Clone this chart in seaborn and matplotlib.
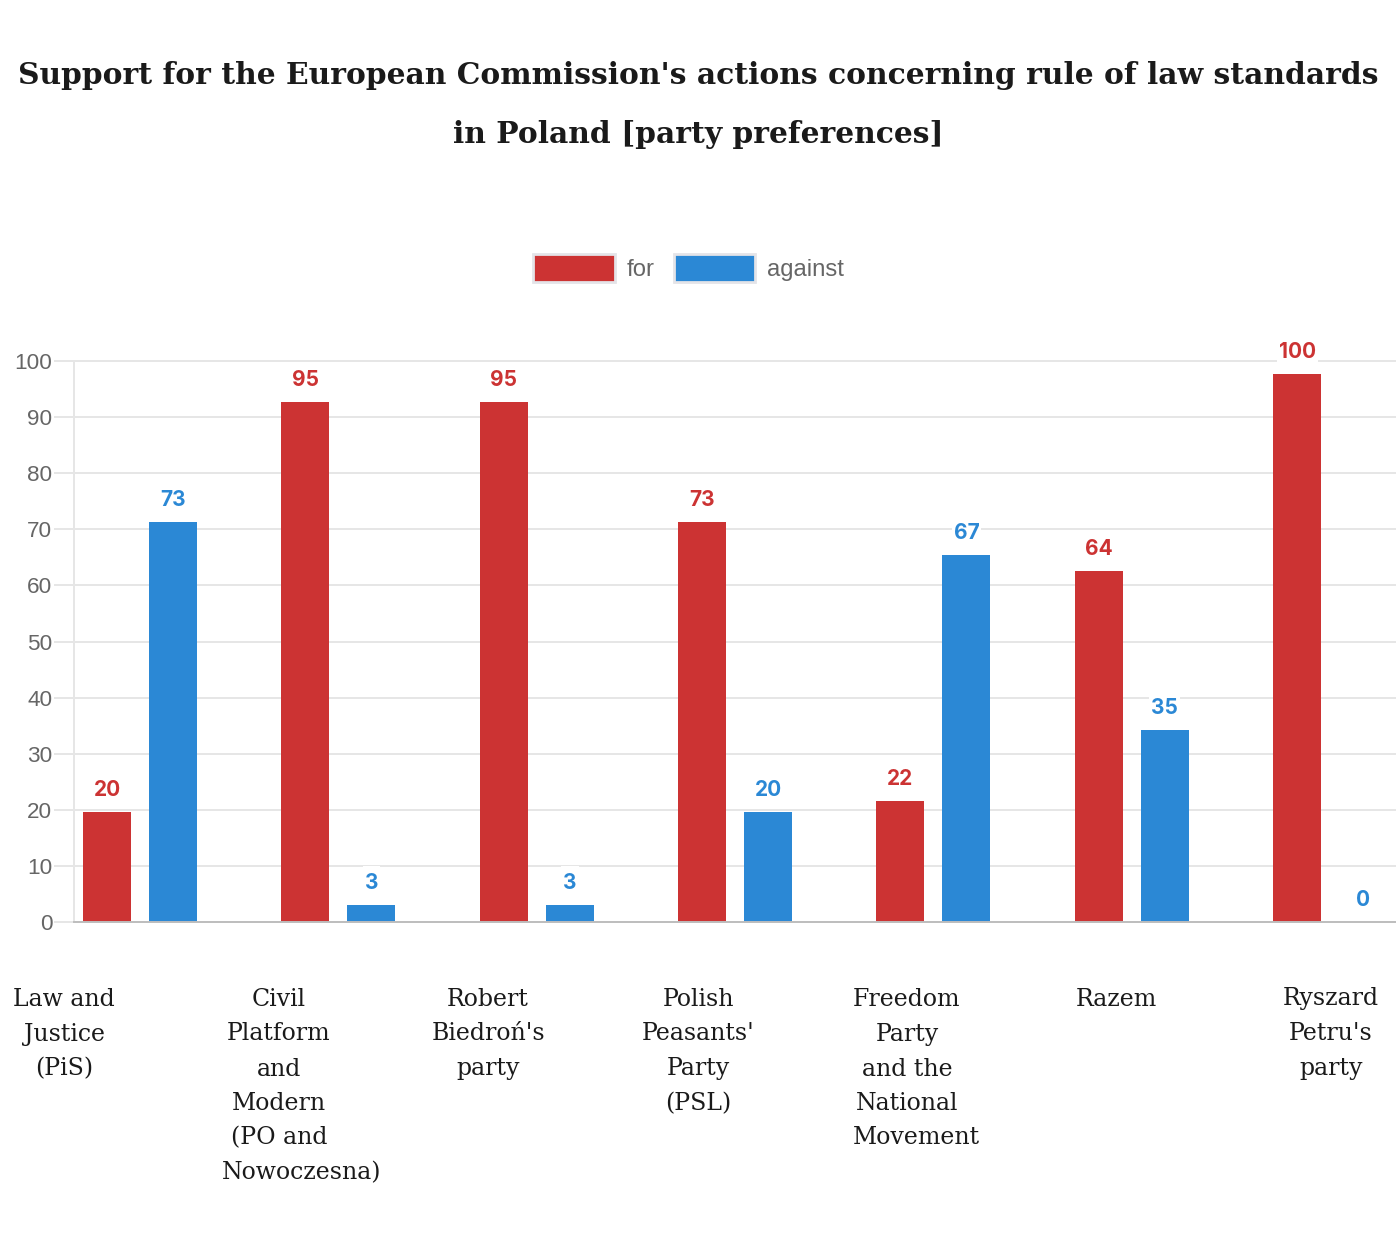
import matplotlib
matplotlib.use("Agg")
import matplotlib.pyplot as plt
import seaborn as sns
import pandas as pd
from matplotlib.patches import Patch
from matplotlib.path import Path

parties = ["Law and Justice (PiS)", "Civil Platform and Modern (PO and Nowoczesna)",
           "Robert Biedroń's party", "Polish Peasants' Party (PSL)",
           "Freedom Party and the National Movement", "Razem", "Ryszard Petru's party"]
series_names = ["for", "against"]
bar_for = [19.6, 92.7, 92.7, 71.3, 21.6, 62.6, 97.7]
bar_against = [71.3, 3.0, 3.0, 19.6, 65.4, 34.2, 0.0]
label_for = ["20", "95", "95", "73", "22", "64", "100"]
label_against = ["73", "3", "3", "20", "67", "35", "0"]
category_lines = [
    ["Law and", "Justice", "(PiS)"],
    ["Civil", "Platform", "and", "Modern", "(PO and", "Nowoczesna)"],
    ["Robert", "Biedroń's", "party"],
    ["Polish", "Peasants'", "Party", "(PSL)"],
    ["Freedom", "Party", "and the", "National", "Movement"],
    ["Razem"],
    ["Ryszard", "Petru's", "party"],
]
yticks = list(range(0, 101, 10))
title = ("Support for the European Commission's actions concerning rule of law standards\n"
         "in Poland [party preferences]")

RED, BLUE = "#CC3333", "#2B88D5"
W, H = 1396, 1240
sns.set_theme(style="white")
plt.rcParams["font.family"] = ["Liberation Sans", "DejaVu Sans"]
SERIF = ["DejaVu Serif"]

df = pd.DataFrame({
    "party": parties * 2,
    "side": [series_names[0]] * 7 + [series_names[1]] * 7,
    "value": bar_for + bar_against,
})

fig = plt.figure(figsize=(W / 100, H / 100), dpi=100, facecolor="white")
ax = fig.add_axes([74 / W, 1 - 922 / H, (W - 74) / W, (922 - 361) / H])
sns.barplot(data=df, x="party", y="value", hue="side", hue_order=series_names,
            palette=[RED, BLUE], width=0.666, gap=0.273, saturation=1,
            legend=False, ax=ax, linewidth=0)

ax.set_xlim(-0.3328, 6.332)
ax.set_ylim(0, 100)
ax.set_xlabel("")
ax.set_ylabel("")
ax.set_xticks(range(7))
ax.set_xticklabels([""] * 7)
ax.tick_params(axis="x", length=0)
ax.set_yticks(yticks)
ax.set_yticklabels([str(v) for v in yticks], fontsize=16.2, color="#666666")
ax.tick_params(axis="y", length=14.5, width=1.4, color="#e6e6e6", pad=1, left=True)
ax.yaxis.get_major_ticks()[0].tick1line.set_color("#bdbdbd")
ax.grid(axis="y", color="#e6e6e6", lw=1.4, clip_on=False)
ax.grid(axis="x", visible=False)
ax.set_axisbelow(True)
for side in ("top", "right"):
    ax.spines[side].set_visible(False)
ax.spines["left"].set_color("#e6e6e6")
ax.spines["left"].set_linewidth(1.4)
ax.spines["bottom"].set_color("#bdbdbd")
ax.spines["bottom"].set_linewidth(1.4)
ax.spines["bottom"].set_zorder(5)


def label_box(x0, y0, w, h, mutation_size):
    # white backing that breaks the gridlines behind a data label
    cx, cy = x0 + w / 2, y0 + h / 2
    hw, hh = w / 2 + 2, 17
    return Path([(cx - hw, cy - hh), (cx + hw, cy - hh), (cx + hw, cy + hh),
                 (cx - hw, cy + hh), (cx - hw, cy - hh)], closed=True)


for container, labels, color in zip(ax.containers, (label_for, label_against), (RED, BLUE)):
    for bar, text in zip(container, labels):
        ax.annotate(text, (bar.get_x() + bar.get_width() / 2, bar.get_height()),
                    xytext=(0, 16.0), textcoords="offset points", ha="center", va="center",
                    fontsize=15, fontweight="bold", family=["Inter", "DejaVu Sans"], color=color,
                    annotation_clip=False, zorder=4,
                    bbox=dict(boxstyle=label_box, fc="white", ec="none"))

handles = [Patch(facecolor=RED, edgecolor="#e4e4e8", linewidth=2),
           Patch(facecolor=BLUE, edgecolor="#e4e4e8", linewidth=2)]
fig.legend(handles, series_names, loc="center", bbox_to_anchor=(688.5 / W, 1 - 268 / H),
           ncol=2, frameon=False, fontsize=17.2, labelcolor="#666666",
           handlelength=3.4, handleheight=1.43, handletextpad=0.5, columnspacing=0.8,
           borderpad=0, borderaxespad=0)

fig.text(698 / W, 1 - 105 / H, title, ha="center", va="center", fontsize=21.4,
         fontweight="bold", family=SERIF, color="#1a1a1a", linespacing=2.27)

centers = [64, 279, 488, 698, 907, 1116, 1331]
line_y = [999, 1034, 1069, 1104, 1138, 1173]
shifts = {"Nowoczesna)": 23, "Movement": 9}
for cx, lines in zip(centers, category_lines):
    for y, line in zip(line_y, lines):
        fig.text((cx + shifts.get(line, 0)) / W, 1 - y / H, line, ha="center", va="center",
                 fontsize=17, family=SERIF, color="#1a1a1a")

fig.savefig("out.png", dpi=100, facecolor="white")
